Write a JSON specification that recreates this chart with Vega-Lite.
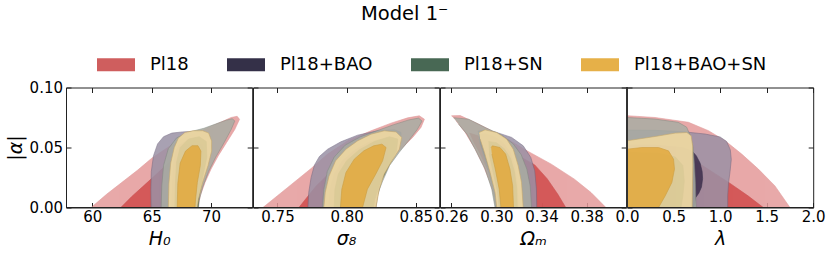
{
"$schema": "https://vega.github.io/schema/vega-lite/v6.json",
"padding": {"left": 5, "top": 3.5, "right": 5, "bottom": 5},
"title": {"text": "Model 1⁻", "font": "DejaVu Sans", "fontSize": 19.5, "fontWeight": "normal", "color": "black", "anchor": "middle", "dx": -11, "offset": 21.8},
"config": {
  "view": {"stroke": "#222", "strokeWidth": 1},
  "axis": {"labelFont": "DejaVu Sans", "labelFontSize": 15, "labelColor": "black", "titleFont": "DejaVu Sans", "titleFontSize": 19, "titleFontWeight": "normal", "titleFontStyle": "italic", "titleColor": "black", "domain": false, "grid": false, "tickColor": "#222", "tickSize": -5, "tickWidth": 1, "labelPadding": 8, "labelFlush": false, "labelOverlap": false, "labelBound": false},
  "axisX": {"labelPadding": 6.5, "titlePadding": 5}
},
"data": {"values": [
{"p":1,"d":"Pl18","l":95,"x":59.9,"y":0},{"p":1,"d":"Pl18","l":95,"x":61.2,"y":0.011},{"p":1,"d":"Pl18","l":95,"x":62.5,"y":0.021},{"p":1,"d":"Pl18","l":95,"x":63.8,"y":0.031},{"p":1,"d":"Pl18","l":95,"x":65.0,"y":0.041},{"p":1,"d":"Pl18","l":95,"x":66.35,"y":0.05},{"p":1,"d":"Pl18","l":95,"x":67.75,"y":0.058},{"p":1,"d":"Pl18","l":95,"x":69.4,"y":0.065},{"p":1,"d":"Pl18","l":95,"x":70.8,"y":0.071},{"p":1,"d":"Pl18","l":95,"x":71.7,"y":0.075},{"p":1,"d":"Pl18","l":95,"x":72.2,"y":0.076},{"p":1,"d":"Pl18","l":95,"x":72.4,"y":0.0735},{"p":1,"d":"Pl18","l":95,"x":72.0,"y":0.065},{"p":1,"d":"Pl18","l":95,"x":71.3,"y":0.054},{"p":1,"d":"Pl18","l":95,"x":70.6,"y":0.043},{"p":1,"d":"Pl18","l":95,"x":70.0,"y":0.032},{"p":1,"d":"Pl18","l":95,"x":69.5,"y":0.021},{"p":1,"d":"Pl18","l":95,"x":69.1,"y":0.01},{"p":1,"d":"Pl18","l":95,"x":68.9,"y":0},
{"p":1,"d":"Pl18","l":68,"x":62.4,"y":0},{"p":1,"d":"Pl18","l":68,"x":63.3,"y":0.009},{"p":1,"d":"Pl18","l":68,"x":64.2,"y":0.017},{"p":1,"d":"Pl18","l":68,"x":65.2,"y":0.026},{"p":1,"d":"Pl18","l":68,"x":66.3,"y":0.036},{"p":1,"d":"Pl18","l":68,"x":67.5,"y":0.046},{"p":1,"d":"Pl18","l":68,"x":68.6,"y":0.054},{"p":1,"d":"Pl18","l":68,"x":69.5,"y":0.058},{"p":1,"d":"Pl18","l":68,"x":69.9,"y":0.055},{"p":1,"d":"Pl18","l":68,"x":69.8,"y":0.045},{"p":1,"d":"Pl18","l":68,"x":69.4,"y":0.03},{"p":1,"d":"Pl18","l":68,"x":69.0,"y":0.015},{"p":1,"d":"Pl18","l":68,"x":68.7,"y":0},
{"p":1,"d":"Pl18+BAO","l":95,"x":64.95,"y":0},{"p":1,"d":"Pl18+BAO","l":95,"x":64.93,"y":0.015},{"p":1,"d":"Pl18+BAO","l":95,"x":64.97,"y":0.03},{"p":1,"d":"Pl18+BAO","l":95,"x":65.15,"y":0.043},{"p":1,"d":"Pl18+BAO","l":95,"x":65.5,"y":0.053},{"p":1,"d":"Pl18+BAO","l":95,"x":66.0,"y":0.059},{"p":1,"d":"Pl18+BAO","l":95,"x":66.7,"y":0.062},{"p":1,"d":"Pl18+BAO","l":95,"x":67.6,"y":0.063},{"p":1,"d":"Pl18+BAO","l":95,"x":68.6,"y":0.0635},{"p":1,"d":"Pl18+BAO","l":95,"x":69.4,"y":0.063},{"p":1,"d":"Pl18+BAO","l":95,"x":69.9,"y":0.059},{"p":1,"d":"Pl18+BAO","l":95,"x":70.0,"y":0.05},{"p":1,"d":"Pl18+BAO","l":95,"x":69.7,"y":0.038},{"p":1,"d":"Pl18+BAO","l":95,"x":69.3,"y":0.024},{"p":1,"d":"Pl18+BAO","l":95,"x":69.0,"y":0.01},{"p":1,"d":"Pl18+BAO","l":95,"x":68.85,"y":0},
{"p":1,"d":"Pl18+BAO","l":68,"x":66.7,"y":0},{"p":1,"d":"Pl18+BAO","l":68,"x":66.75,"y":0.02},{"p":1,"d":"Pl18+BAO","l":68,"x":66.85,"y":0.037},{"p":1,"d":"Pl18+BAO","l":68,"x":66.98,"y":0.046},{"p":1,"d":"Pl18+BAO","l":68,"x":67.3,"y":0.052},{"p":1,"d":"Pl18+BAO","l":68,"x":68.0,"y":0.056},{"p":1,"d":"Pl18+BAO","l":68,"x":68.9,"y":0.055},{"p":1,"d":"Pl18+BAO","l":68,"x":69.4,"y":0.049},{"p":1,"d":"Pl18+BAO","l":68,"x":69.35,"y":0.032},{"p":1,"d":"Pl18+BAO","l":68,"x":69.05,"y":0.015},{"p":1,"d":"Pl18+BAO","l":68,"x":68.8,"y":0},
{"p":1,"d":"Pl18+SN","l":95,"x":65.8,"y":0},{"p":1,"d":"Pl18+SN","l":95,"x":65.85,"y":0.018},{"p":1,"d":"Pl18+SN","l":95,"x":66.0,"y":0.035},{"p":1,"d":"Pl18+SN","l":95,"x":66.4,"y":0.049},{"p":1,"d":"Pl18+SN","l":95,"x":67.1,"y":0.058},{"p":1,"d":"Pl18+SN","l":95,"x":68.2,"y":0.063},{"p":1,"d":"Pl18+SN","l":95,"x":69.4,"y":0.066},{"p":1,"d":"Pl18+SN","l":95,"x":70.5,"y":0.07},{"p":1,"d":"Pl18+SN","l":95,"x":71.3,"y":0.0728},{"p":1,"d":"Pl18+SN","l":95,"x":71.8,"y":0.074},{"p":1,"d":"Pl18+SN","l":95,"x":72.0,"y":0.072},{"p":1,"d":"Pl18+SN","l":95,"x":71.7,"y":0.065},{"p":1,"d":"Pl18+SN","l":95,"x":71.1,"y":0.054},{"p":1,"d":"Pl18+SN","l":95,"x":70.4,"y":0.042},{"p":1,"d":"Pl18+SN","l":95,"x":69.8,"y":0.03},{"p":1,"d":"Pl18+SN","l":95,"x":69.3,"y":0.017},{"p":1,"d":"Pl18+SN","l":95,"x":69.0,"y":0.006},{"p":1,"d":"Pl18+SN","l":95,"x":68.95,"y":0},
{"p":1,"d":"Pl18+SN","l":68,"x":66.95,"y":0},{"p":1,"d":"Pl18+SN","l":68,"x":67.0,"y":0.02},{"p":1,"d":"Pl18+SN","l":68,"x":67.1,"y":0.038},{"p":1,"d":"Pl18+SN","l":68,"x":67.4,"y":0.05},{"p":1,"d":"Pl18+SN","l":68,"x":68.1,"y":0.057},{"p":1,"d":"Pl18+SN","l":68,"x":69.0,"y":0.059},{"p":1,"d":"Pl18+SN","l":68,"x":69.6,"y":0.055},{"p":1,"d":"Pl18+SN","l":68,"x":69.65,"y":0.042},{"p":1,"d":"Pl18+SN","l":68,"x":69.3,"y":0.025},{"p":1,"d":"Pl18+SN","l":68,"x":69.0,"y":0.01},{"p":1,"d":"Pl18+SN","l":68,"x":68.9,"y":0},
{"p":1,"d":"Pl18+BAO+SN","l":95,"x":66.4,"y":0},{"p":1,"d":"Pl18+BAO+SN","l":95,"x":66.45,"y":0.02},{"p":1,"d":"Pl18+BAO+SN","l":95,"x":66.6,"y":0.037},{"p":1,"d":"Pl18+BAO+SN","l":95,"x":66.9,"y":0.05},{"p":1,"d":"Pl18+BAO+SN","l":95,"x":67.25,"y":0.058},{"p":1,"d":"Pl18+BAO+SN","l":95,"x":67.8,"y":0.0625},{"p":1,"d":"Pl18+BAO+SN","l":95,"x":68.5,"y":0.064},{"p":1,"d":"Pl18+BAO+SN","l":95,"x":69.3,"y":0.064},{"p":1,"d":"Pl18+BAO+SN","l":95,"x":69.8,"y":0.062},{"p":1,"d":"Pl18+BAO+SN","l":95,"x":70.05,"y":0.0555},{"p":1,"d":"Pl18+BAO+SN","l":95,"x":70.05,"y":0.047},{"p":1,"d":"Pl18+BAO+SN","l":95,"x":69.75,"y":0.035},{"p":1,"d":"Pl18+BAO+SN","l":95,"x":69.3,"y":0.021},{"p":1,"d":"Pl18+BAO+SN","l":95,"x":68.95,"y":0.007},{"p":1,"d":"Pl18+BAO+SN","l":95,"x":68.85,"y":0},
{"p":1,"d":"Pl18+BAO+SN","l":68,"x":67.15,"y":0},{"p":1,"d":"Pl18+BAO+SN","l":68,"x":67.2,"y":0.02},{"p":1,"d":"Pl18+BAO+SN","l":68,"x":67.4,"y":0.037},{"p":1,"d":"Pl18+BAO+SN","l":68,"x":67.85,"y":0.047},{"p":1,"d":"Pl18+BAO+SN","l":68,"x":68.4,"y":0.0515},{"p":1,"d":"Pl18+BAO+SN","l":68,"x":68.9,"y":0.0515},{"p":1,"d":"Pl18+BAO+SN","l":68,"x":69.15,"y":0.047},{"p":1,"d":"Pl18+BAO+SN","l":68,"x":69.1,"y":0.035},{"p":1,"d":"Pl18+BAO+SN","l":68,"x":68.85,"y":0.021},{"p":1,"d":"Pl18+BAO+SN","l":68,"x":68.7,"y":0.007},{"p":1,"d":"Pl18+BAO+SN","l":68,"x":68.65,"y":0},

{"p":2,"d":"Pl18","l":95,"x":0.7395,"y":0},{"p":2,"d":"Pl18","l":95,"x":0.7574,"y":0.0167},{"p":2,"d":"Pl18","l":95,"x":0.7743,"y":0.0325},{"p":2,"d":"Pl18","l":95,"x":0.7863,"y":0.0445},{"p":2,"d":"Pl18","l":95,"x":0.8008,"y":0.0556},{"p":2,"d":"Pl18","l":95,"x":0.8176,"y":0.0639},{"p":2,"d":"Pl18","l":95,"x":0.8321,"y":0.0703},{"p":2,"d":"Pl18","l":95,"x":0.8441,"y":0.0747},{"p":2,"d":"Pl18","l":95,"x":0.8525,"y":0.0764},{"p":2,"d":"Pl18","l":95,"x":0.8562,"y":0.0736},{"p":2,"d":"Pl18","l":95,"x":0.8537,"y":0.0667},{"p":2,"d":"Pl18","l":95,"x":0.8477,"y":0.0584},{"p":2,"d":"Pl18","l":95,"x":0.8405,"y":0.05},{"p":2,"d":"Pl18","l":95,"x":0.8333,"y":0.0417},{"p":2,"d":"Pl18","l":95,"x":0.8272,"y":0.032},{"p":2,"d":"Pl18","l":95,"x":0.8236,"y":0.0209},{"p":2,"d":"Pl18","l":95,"x":0.8212,"y":0.0098},{"p":2,"d":"Pl18","l":95,"x":0.82,"y":0},
{"p":2,"d":"Pl18","l":68,"x":0.7655,"y":0},{"p":2,"d":"Pl18","l":68,"x":0.771,"y":0.008},{"p":2,"d":"Pl18","l":68,"x":0.778,"y":0.018},{"p":2,"d":"Pl18","l":68,"x":0.787,"y":0.028},{"p":2,"d":"Pl18","l":68,"x":0.797,"y":0.038},{"p":2,"d":"Pl18","l":68,"x":0.808,"y":0.047},{"p":2,"d":"Pl18","l":68,"x":0.82,"y":0.054},{"p":2,"d":"Pl18","l":68,"x":0.831,"y":0.058},{"p":2,"d":"Pl18","l":68,"x":0.837,"y":0.056},{"p":2,"d":"Pl18","l":68,"x":0.836,"y":0.047},{"p":2,"d":"Pl18","l":68,"x":0.83,"y":0.034},{"p":2,"d":"Pl18","l":68,"x":0.824,"y":0.02},{"p":2,"d":"Pl18","l":68,"x":0.82,"y":0.007},{"p":2,"d":"Pl18","l":68,"x":0.819,"y":0},
{"p":2,"d":"Pl18+BAO","l":95,"x":0.772,"y":0},{"p":2,"d":"Pl18+BAO","l":95,"x":0.7726,"y":0.0125},{"p":2,"d":"Pl18+BAO","l":95,"x":0.7743,"y":0.025},{"p":2,"d":"Pl18+BAO","l":95,"x":0.7767,"y":0.0353},{"p":2,"d":"Pl18+BAO","l":95,"x":0.7803,"y":0.0425},{"p":2,"d":"Pl18+BAO","l":95,"x":0.7863,"y":0.0486},{"p":2,"d":"Pl18+BAO","l":95,"x":0.7959,"y":0.0548},{"p":2,"d":"Pl18+BAO","l":95,"x":0.808,"y":0.0603},{"p":2,"d":"Pl18+BAO","l":95,"x":0.8224,"y":0.0639},{"p":2,"d":"Pl18+BAO","l":95,"x":0.8345,"y":0.0647},{"p":2,"d":"Pl18+BAO","l":95,"x":0.8393,"y":0.0625},{"p":2,"d":"Pl18+BAO","l":95,"x":0.8388,"y":0.0542},{"p":2,"d":"Pl18+BAO","l":95,"x":0.8345,"y":0.0431},{"p":2,"d":"Pl18+BAO","l":95,"x":0.8284,"y":0.032},{"p":2,"d":"Pl18+BAO","l":95,"x":0.8248,"y":0.0209},{"p":2,"d":"Pl18+BAO","l":95,"x":0.8224,"y":0.0098},{"p":2,"d":"Pl18+BAO","l":95,"x":0.8212,"y":0},
{"p":2,"d":"Pl18+BAO","l":68,"x":0.787,"y":0},{"p":2,"d":"Pl18+BAO","l":68,"x":0.788,"y":0.015},{"p":2,"d":"Pl18+BAO","l":68,"x":0.791,"y":0.028},{"p":2,"d":"Pl18+BAO","l":68,"x":0.797,"y":0.039},{"p":2,"d":"Pl18+BAO","l":68,"x":0.806,"y":0.048},{"p":2,"d":"Pl18+BAO","l":68,"x":0.817,"y":0.055},{"p":2,"d":"Pl18+BAO","l":68,"x":0.829,"y":0.058},{"p":2,"d":"Pl18+BAO","l":68,"x":0.835,"y":0.055},{"p":2,"d":"Pl18+BAO","l":68,"x":0.834,"y":0.045},{"p":2,"d":"Pl18+BAO","l":68,"x":0.829,"y":0.033},{"p":2,"d":"Pl18+BAO","l":68,"x":0.824,"y":0.02},{"p":2,"d":"Pl18+BAO","l":68,"x":0.82,"y":0.008},{"p":2,"d":"Pl18+BAO","l":68,"x":0.818,"y":0},
{"p":2,"d":"Pl18+SN","l":95,"x":0.7825,"y":0},{"p":2,"d":"Pl18+SN","l":95,"x":0.7835,"y":0.015},{"p":2,"d":"Pl18+SN","l":95,"x":0.786,"y":0.03},{"p":2,"d":"Pl18+SN","l":95,"x":0.791,"y":0.042},{"p":2,"d":"Pl18+SN","l":95,"x":0.799,"y":0.052},{"p":2,"d":"Pl18+SN","l":95,"x":0.81,"y":0.059},{"p":2,"d":"Pl18+SN","l":95,"x":0.822,"y":0.064},{"p":2,"d":"Pl18+SN","l":95,"x":0.834,"y":0.069},{"p":2,"d":"Pl18+SN","l":95,"x":0.845,"y":0.073},{"p":2,"d":"Pl18+SN","l":95,"x":0.852,"y":0.0745},{"p":2,"d":"Pl18+SN","l":95,"x":0.8545,"y":0.072},{"p":2,"d":"Pl18+SN","l":95,"x":0.851,"y":0.065},{"p":2,"d":"Pl18+SN","l":95,"x":0.845,"y":0.056},{"p":2,"d":"Pl18+SN","l":95,"x":0.838,"y":0.046},{"p":2,"d":"Pl18+SN","l":95,"x":0.831,"y":0.035},{"p":2,"d":"Pl18+SN","l":95,"x":0.826,"y":0.022},{"p":2,"d":"Pl18+SN","l":95,"x":0.822,"y":0.01},{"p":2,"d":"Pl18+SN","l":95,"x":0.8205,"y":0},
{"p":2,"d":"Pl18+SN","l":68,"x":0.791,"y":0},{"p":2,"d":"Pl18+SN","l":68,"x":0.7915,"y":0.015},{"p":2,"d":"Pl18+SN","l":68,"x":0.794,"y":0.028},{"p":2,"d":"Pl18+SN","l":68,"x":0.8,"y":0.039},{"p":2,"d":"Pl18+SN","l":68,"x":0.809,"y":0.048},{"p":2,"d":"Pl18+SN","l":68,"x":0.82,"y":0.055},{"p":2,"d":"Pl18+SN","l":68,"x":0.831,"y":0.059},{"p":2,"d":"Pl18+SN","l":68,"x":0.837,"y":0.057},{"p":2,"d":"Pl18+SN","l":68,"x":0.836,"y":0.047},{"p":2,"d":"Pl18+SN","l":68,"x":0.83,"y":0.034},{"p":2,"d":"Pl18+SN","l":68,"x":0.824,"y":0.02},{"p":2,"d":"Pl18+SN","l":68,"x":0.8205,"y":0.007},{"p":2,"d":"Pl18+SN","l":68,"x":0.8195,"y":0},
{"p":2,"d":"Pl18+BAO+SN","l":95,"x":0.7835,"y":0},{"p":2,"d":"Pl18+BAO+SN","l":95,"x":0.7845,"y":0.0125},{"p":2,"d":"Pl18+BAO+SN","l":95,"x":0.7872,"y":0.026},{"p":2,"d":"Pl18+BAO+SN","l":95,"x":0.792,"y":0.0389},{"p":2,"d":"Pl18+BAO+SN","l":95,"x":0.7995,"y":0.0486},{"p":2,"d":"Pl18+BAO+SN","l":95,"x":0.808,"y":0.0556},{"p":2,"d":"Pl18+BAO+SN","l":95,"x":0.8176,"y":0.0611},{"p":2,"d":"Pl18+BAO+SN","l":95,"x":0.8272,"y":0.0639},{"p":2,"d":"Pl18+BAO+SN","l":95,"x":0.8357,"y":0.063},{"p":2,"d":"Pl18+BAO+SN","l":95,"x":0.8398,"y":0.0584},{"p":2,"d":"Pl18+BAO+SN","l":95,"x":0.8381,"y":0.0486},{"p":2,"d":"Pl18+BAO+SN","l":95,"x":0.832,"y":0.0375},{"p":2,"d":"Pl18+BAO+SN","l":95,"x":0.8272,"y":0.0278},{"p":2,"d":"Pl18+BAO+SN","l":95,"x":0.8236,"y":0.0153},{"p":2,"d":"Pl18+BAO+SN","l":95,"x":0.8212,"y":0},
{"p":2,"d":"Pl18+BAO+SN","l":68,"x":0.7955,"y":0},{"p":2,"d":"Pl18+BAO+SN","l":68,"x":0.7965,"y":0.0153},{"p":2,"d":"Pl18+BAO+SN","l":68,"x":0.7995,"y":0.0292},{"p":2,"d":"Pl18+BAO+SN","l":68,"x":0.8055,"y":0.0403},{"p":2,"d":"Pl18+BAO+SN","l":68,"x":0.8125,"y":0.0473},{"p":2,"d":"Pl18+BAO+SN","l":68,"x":0.8195,"y":0.0514},{"p":2,"d":"Pl18+BAO+SN","l":68,"x":0.8255,"y":0.0528},{"p":2,"d":"Pl18+BAO+SN","l":68,"x":0.8285,"y":0.05},{"p":2,"d":"Pl18+BAO+SN","l":68,"x":0.826,"y":0.0389},{"p":2,"d":"Pl18+BAO+SN","l":68,"x":0.821,"y":0.0278},{"p":2,"d":"Pl18+BAO+SN","l":68,"x":0.815,"y":0.0153},{"p":2,"d":"Pl18+BAO+SN","l":68,"x":0.8115,"y":0},

{"p":3,"d":"Pl18","l":95,"x":0.2601,"y":0.0764},{"p":3,"d":"Pl18","l":95,"x":0.268,"y":0.0766},{"p":3,"d":"Pl18","l":95,"x":0.2841,"y":0.0695},{"p":3,"d":"Pl18","l":95,"x":0.3047,"y":0.0597},{"p":3,"d":"Pl18","l":95,"x":0.3282,"y":0.0467},{"p":3,"d":"Pl18","l":95,"x":0.3487,"y":0.0361},{"p":3,"d":"Pl18","l":95,"x":0.3692,"y":0.0236},{"p":3,"d":"Pl18","l":95,"x":0.3839,"y":0.0125},{"p":3,"d":"Pl18","l":95,"x":0.3971,"y":0},{"p":3,"d":"Pl18","l":95,"x":0.2997,"y":0},{"p":3,"d":"Pl18","l":95,"x":0.2982,"y":0.0097},{"p":3,"d":"Pl18","l":95,"x":0.2944,"y":0.0209},{"p":3,"d":"Pl18","l":95,"x":0.2885,"y":0.0347},{"p":3,"d":"Pl18","l":95,"x":0.2812,"y":0.0486},{"p":3,"d":"Pl18","l":95,"x":0.2724,"y":0.0625},{"p":3,"d":"Pl18","l":95,"x":0.2642,"y":0.0723},
{"p":3,"d":"Pl18","l":68,"x":0.276,"y":0.062},{"p":3,"d":"Pl18","l":68,"x":0.29,"y":0.058},{"p":3,"d":"Pl18","l":68,"x":0.305,"y":0.051},{"p":3,"d":"Pl18","l":68,"x":0.32,"y":0.043},{"p":3,"d":"Pl18","l":68,"x":0.334,"y":0.0355},{"p":3,"d":"Pl18","l":68,"x":0.345,"y":0.024},{"p":3,"d":"Pl18","l":68,"x":0.3545,"y":0.011},{"p":3,"d":"Pl18","l":68,"x":0.3615,"y":0},{"p":3,"d":"Pl18","l":68,"x":0.3005,"y":0},{"p":3,"d":"Pl18","l":68,"x":0.2985,"y":0.015},{"p":3,"d":"Pl18","l":68,"x":0.293,"y":0.03},{"p":3,"d":"Pl18","l":68,"x":0.2855,"y":0.045},{"p":3,"d":"Pl18","l":68,"x":0.279,"y":0.056},
{"p":3,"d":"Pl18+BAO","l":95,"x":0.2835,"y":0.0635},{"p":3,"d":"Pl18+BAO","l":95,"x":0.29,"y":0.0645},{"p":3,"d":"Pl18+BAO","l":95,"x":0.2988,"y":0.063},{"p":3,"d":"Pl18+BAO","l":95,"x":0.3135,"y":0.0584},{"p":3,"d":"Pl18+BAO","l":95,"x":0.3238,"y":0.0514},{"p":3,"d":"Pl18+BAO","l":95,"x":0.3305,"y":0.0417},{"p":3,"d":"Pl18+BAO","l":95,"x":0.334,"y":0.0306},{"p":3,"d":"Pl18+BAO","l":95,"x":0.3355,"y":0.0153},{"p":3,"d":"Pl18+BAO","l":95,"x":0.3358,"y":0},{"p":3,"d":"Pl18+BAO","l":95,"x":0.2995,"y":0},{"p":3,"d":"Pl18+BAO","l":95,"x":0.297,"y":0.015},{"p":3,"d":"Pl18+BAO","l":95,"x":0.293,"y":0.03},{"p":3,"d":"Pl18+BAO","l":95,"x":0.288,"y":0.045},{"p":3,"d":"Pl18+BAO","l":95,"x":0.2845,"y":0.057},
{"p":3,"d":"Pl18+BAO","l":68,"x":0.2845,"y":0.061},{"p":3,"d":"Pl18+BAO","l":68,"x":0.29,"y":0.0615},{"p":3,"d":"Pl18+BAO","l":68,"x":0.298,"y":0.059},{"p":3,"d":"Pl18+BAO","l":68,"x":0.306,"y":0.054},{"p":3,"d":"Pl18+BAO","l":68,"x":0.312,"y":0.046},{"p":3,"d":"Pl18+BAO","l":68,"x":0.316,"y":0.035},{"p":3,"d":"Pl18+BAO","l":68,"x":0.3185,"y":0.02},{"p":3,"d":"Pl18+BAO","l":68,"x":0.3195,"y":0},{"p":3,"d":"Pl18+BAO","l":68,"x":0.3015,"y":0},{"p":3,"d":"Pl18+BAO","l":68,"x":0.2995,"y":0.013},{"p":3,"d":"Pl18+BAO","l":68,"x":0.295,"y":0.028},{"p":3,"d":"Pl18+BAO","l":68,"x":0.2895,"y":0.043},{"p":3,"d":"Pl18+BAO","l":68,"x":0.2855,"y":0.054},
{"p":3,"d":"Pl18+SN","l":95,"x":0.2621,"y":0.0748},{"p":3,"d":"Pl18+SN","l":95,"x":0.2753,"y":0.0736},{"p":3,"d":"Pl18+SN","l":95,"x":0.29,"y":0.0667},{"p":3,"d":"Pl18+SN","l":95,"x":0.3047,"y":0.0603},{"p":3,"d":"Pl18+SN","l":95,"x":0.315,"y":0.053},{"p":3,"d":"Pl18+SN","l":95,"x":0.322,"y":0.044},{"p":3,"d":"Pl18+SN","l":95,"x":0.327,"y":0.032},{"p":3,"d":"Pl18+SN","l":95,"x":0.33,"y":0.018},{"p":3,"d":"Pl18+SN","l":95,"x":0.3312,"y":0},{"p":3,"d":"Pl18+SN","l":95,"x":0.2988,"y":0},{"p":3,"d":"Pl18+SN","l":95,"x":0.2959,"y":0.0153},{"p":3,"d":"Pl18+SN","l":95,"x":0.29,"y":0.032},{"p":3,"d":"Pl18+SN","l":95,"x":0.2812,"y":0.0486},{"p":3,"d":"Pl18+SN","l":95,"x":0.2739,"y":0.0611},{"p":3,"d":"Pl18+SN","l":95,"x":0.2665,"y":0.0695},
{"p":3,"d":"Pl18+SN","l":68,"x":0.293,"y":0.055},{"p":3,"d":"Pl18+SN","l":68,"x":0.3,"y":0.054},{"p":3,"d":"Pl18+SN","l":68,"x":0.307,"y":0.049},{"p":3,"d":"Pl18+SN","l":68,"x":0.3125,"y":0.041},{"p":3,"d":"Pl18+SN","l":68,"x":0.316,"y":0.03},{"p":3,"d":"Pl18+SN","l":68,"x":0.318,"y":0.016},{"p":3,"d":"Pl18+SN","l":68,"x":0.3185,"y":0},{"p":3,"d":"Pl18+SN","l":68,"x":0.3025,"y":0},{"p":3,"d":"Pl18+SN","l":68,"x":0.301,"y":0.013},{"p":3,"d":"Pl18+SN","l":68,"x":0.2975,"y":0.028},{"p":3,"d":"Pl18+SN","l":68,"x":0.2935,"y":0.045},
{"p":3,"d":"Pl18+BAO+SN","l":95,"x":0.2847,"y":0.0625},{"p":3,"d":"Pl18+BAO+SN","l":95,"x":0.29,"y":0.0647},{"p":3,"d":"Pl18+BAO+SN","l":95,"x":0.3003,"y":0.0625},{"p":3,"d":"Pl18+BAO+SN","l":95,"x":0.3091,"y":0.057},{"p":3,"d":"Pl18+BAO+SN","l":95,"x":0.315,"y":0.0486},{"p":3,"d":"Pl18+BAO+SN","l":95,"x":0.3194,"y":0.0347},{"p":3,"d":"Pl18+BAO+SN","l":95,"x":0.3223,"y":0.0209},{"p":3,"d":"Pl18+BAO+SN","l":95,"x":0.3238,"y":0},{"p":3,"d":"Pl18+BAO+SN","l":95,"x":0.3003,"y":0},{"p":3,"d":"Pl18+BAO+SN","l":95,"x":0.2988,"y":0.0125},{"p":3,"d":"Pl18+BAO+SN","l":95,"x":0.2944,"y":0.0292},{"p":3,"d":"Pl18+BAO+SN","l":95,"x":0.2894,"y":0.0459},{"p":3,"d":"Pl18+BAO+SN","l":95,"x":0.2856,"y":0.057},
{"p":3,"d":"Pl18+BAO+SN","l":68,"x":0.2953,"y":0.05},{"p":3,"d":"Pl18+BAO+SN","l":68,"x":0.2965,"y":0.0514},{"p":3,"d":"Pl18+BAO+SN","l":68,"x":0.3032,"y":0.05},{"p":3,"d":"Pl18+BAO+SN","l":68,"x":0.3082,"y":0.0445},{"p":3,"d":"Pl18+BAO+SN","l":68,"x":0.312,"y":0.032},{"p":3,"d":"Pl18+BAO+SN","l":68,"x":0.3144,"y":0.0181},{"p":3,"d":"Pl18+BAO+SN","l":68,"x":0.3152,"y":0},{"p":3,"d":"Pl18+BAO+SN","l":68,"x":0.304,"y":0},{"p":3,"d":"Pl18+BAO+SN","l":68,"x":0.3025,"y":0.0153},{"p":3,"d":"Pl18+BAO+SN","l":68,"x":0.299,"y":0.032},{"p":3,"d":"Pl18+BAO+SN","l":68,"x":0.296,"y":0.0445},

{"p":4,"d":"Pl18","l":95,"x":0,"y":0},{"p":4,"d":"Pl18","l":95,"x":0,"y":0.0765},{"p":4,"d":"Pl18","l":95,"x":0.3,"y":0.075},{"p":4,"d":"Pl18","l":95,"x":0.66,"y":0.071},{"p":4,"d":"Pl18","l":95,"x":0.875,"y":0.064},{"p":4,"d":"Pl18","l":95,"x":1.054,"y":0.0556},{"p":4,"d":"Pl18","l":95,"x":1.232,"y":0.0445},{"p":4,"d":"Pl18","l":95,"x":1.411,"y":0.032},{"p":4,"d":"Pl18","l":95,"x":1.589,"y":0.018},{"p":4,"d":"Pl18","l":95,"x":1.75,"y":0},
{"p":4,"d":"Pl18","l":68,"x":0,"y":0},{"p":4,"d":"Pl18","l":68,"x":0,"y":0.055},{"p":4,"d":"Pl18","l":68,"x":0.3,"y":0.053},{"p":4,"d":"Pl18","l":68,"x":0.55,"y":0.047},{"p":4,"d":"Pl18","l":68,"x":0.77,"y":0.037},{"p":4,"d":"Pl18","l":68,"x":0.95,"y":0.028},{"p":4,"d":"Pl18","l":68,"x":1.1,"y":0.0205},{"p":4,"d":"Pl18","l":68,"x":1.3,"y":0.0097},{"p":4,"d":"Pl18","l":68,"x":1.464,"y":0},
{"p":4,"d":"Pl18+BAO","l":95,"x":0,"y":0},{"p":4,"d":"Pl18+BAO","l":95,"x":0,"y":0.0645},{"p":4,"d":"Pl18+BAO","l":95,"x":0.3,"y":0.0643},{"p":4,"d":"Pl18+BAO","l":95,"x":0.625,"y":0.063},{"p":4,"d":"Pl18+BAO","l":95,"x":0.84,"y":0.0612},{"p":4,"d":"Pl18+BAO","l":95,"x":1.0,"y":0.0588},{"p":4,"d":"Pl18+BAO","l":95,"x":1.07,"y":0.055},{"p":4,"d":"Pl18+BAO","l":95,"x":1.11,"y":0.048},{"p":4,"d":"Pl18+BAO","l":95,"x":1.12,"y":0.04},{"p":4,"d":"Pl18+BAO","l":95,"x":1.107,"y":0.03},{"p":4,"d":"Pl18+BAO","l":95,"x":1.09,"y":0.02},{"p":4,"d":"Pl18+BAO","l":95,"x":1.082,"y":0.01},{"p":4,"d":"Pl18+BAO","l":95,"x":1.082,"y":0},
{"p":4,"d":"Pl18+BAO","l":68,"x":0,"y":0},{"p":4,"d":"Pl18+BAO","l":68,"x":0,"y":0.052},{"p":4,"d":"Pl18+BAO","l":68,"x":0.3,"y":0.052},{"p":4,"d":"Pl18+BAO","l":68,"x":0.6,"y":0.05},{"p":4,"d":"Pl18+BAO","l":68,"x":0.7,"y":0.047},{"p":4,"d":"Pl18+BAO","l":68,"x":0.745,"y":0.043},{"p":4,"d":"Pl18+BAO","l":68,"x":0.785,"y":0.037},{"p":4,"d":"Pl18+BAO","l":68,"x":0.807,"y":0.03},{"p":4,"d":"Pl18+BAO","l":68,"x":0.812,"y":0.024},{"p":4,"d":"Pl18+BAO","l":68,"x":0.8,"y":0.017},{"p":4,"d":"Pl18+BAO","l":68,"x":0.772,"y":0.012},{"p":4,"d":"Pl18+BAO","l":68,"x":0.735,"y":0.008},{"p":4,"d":"Pl18+BAO","l":68,"x":0.72,"y":0},
{"p":4,"d":"Pl18+SN","l":95,"x":0,"y":0},{"p":4,"d":"Pl18+SN","l":95,"x":0,"y":0.075},{"p":4,"d":"Pl18+SN","l":95,"x":0.3,"y":0.0737},{"p":4,"d":"Pl18+SN","l":95,"x":0.55,"y":0.071},{"p":4,"d":"Pl18+SN","l":95,"x":0.64,"y":0.067},{"p":4,"d":"Pl18+SN","l":95,"x":0.68,"y":0.06},{"p":4,"d":"Pl18+SN","l":95,"x":0.71,"y":0.05},{"p":4,"d":"Pl18+SN","l":95,"x":0.725,"y":0.035},{"p":4,"d":"Pl18+SN","l":95,"x":0.735,"y":0.02},{"p":4,"d":"Pl18+SN","l":95,"x":0.74,"y":0.005},{"p":4,"d":"Pl18+SN","l":95,"x":0.742,"y":0},
{"p":4,"d":"Pl18+SN","l":68,"x":0,"y":0},{"p":4,"d":"Pl18+SN","l":68,"x":0,"y":0.046},{"p":4,"d":"Pl18+SN","l":68,"x":0.35,"y":0.045},{"p":4,"d":"Pl18+SN","l":68,"x":0.52,"y":0.042},{"p":4,"d":"Pl18+SN","l":68,"x":0.6,"y":0.035},{"p":4,"d":"Pl18+SN","l":68,"x":0.615,"y":0.022},{"p":4,"d":"Pl18+SN","l":68,"x":0.6,"y":0.01},{"p":4,"d":"Pl18+SN","l":68,"x":0.58,"y":0},
{"p":4,"d":"Pl18+BAO+SN","l":95,"x":0,"y":0},{"p":4,"d":"Pl18+BAO+SN","l":95,"x":0,"y":0.0556},{"p":4,"d":"Pl18+BAO+SN","l":95,"x":0.303,"y":0.0592},{"p":4,"d":"Pl18+BAO+SN","l":95,"x":0.518,"y":0.062},{"p":4,"d":"Pl18+BAO+SN","l":95,"x":0.643,"y":0.0625},{"p":4,"d":"Pl18+BAO+SN","l":95,"x":0.69,"y":0.0597},{"p":4,"d":"Pl18+BAO+SN","l":95,"x":0.705,"y":0.0514},{"p":4,"d":"Pl18+BAO+SN","l":95,"x":0.707,"y":0.0347},{"p":4,"d":"Pl18+BAO+SN","l":95,"x":0.703,"y":0.0153},{"p":4,"d":"Pl18+BAO+SN","l":95,"x":0.7,"y":0},
{"p":4,"d":"Pl18+BAO+SN","l":68,"x":0,"y":0},{"p":4,"d":"Pl18+BAO+SN","l":68,"x":0,"y":0.0486},{"p":4,"d":"Pl18+BAO+SN","l":68,"x":0.16,"y":0.05},{"p":4,"d":"Pl18+BAO+SN","l":68,"x":0.339,"y":0.05},{"p":4,"d":"Pl18+BAO+SN","l":68,"x":0.446,"y":0.0472},{"p":4,"d":"Pl18+BAO+SN","l":68,"x":0.5,"y":0.0403},{"p":4,"d":"Pl18+BAO+SN","l":68,"x":0.51,"y":0.032},{"p":4,"d":"Pl18+BAO+SN","l":68,"x":0.482,"y":0.0209},{"p":4,"d":"Pl18+BAO+SN","l":68,"x":0.411,"y":0.0098},{"p":4,"d":"Pl18+BAO+SN","l":68,"x":0.339,"y":0}
]},
"spacing": 0,
"bounds": "flush",
"resolve": {"scale": {"x": "independent", "y": "independent", "color": "shared", "fill": "shared", "stroke": "shared"}},
"hconcat": [
 {"width": 186.2, "height": 120, "transform": [{"filter": "datum.p == 1"}, {"calculate": "datum.d + ' ' + datum.l", "as": "k"}],
  "layer": [
   {"mark": {"type": "line", "filled": true, "order": false, "clip": true, "opacity": 0.85, "strokeWidth": 0.6},
    "encoding": {
     "x": {"field": "x", "type": "quantitative", "scale": {"domain": [57.78, 73.47], "nice": false, "zero": false}, "axis": {"orient": "bottom", "values": [60, 65, 70], "format": "d", "title": "H₀"}},
     "y": {"field": "y", "type": "quantitative", "scale": {"domain": [0, 0.1], "nice": false}, "axis": {"orient": "left", "values": [0, 0.05, 0.1], "format": ".2f", "title": "|α|", "labelPadding": 8.5}},
     "fill": {"field": "k", "type": "nominal", "scale": {"domain": ["Pl18 95", "Pl18 68", "Pl18+BAO 95", "Pl18+BAO 68", "Pl18+SN 95", "Pl18+SN 68", "Pl18+BAO+SN 95", "Pl18+BAO+SN 68"], "range": ["#e49b9b", "#d04c4c", "#9b91a5", "#3c2d4b", "#a9ada4", "#486a56", "#f4dba1", "#e2aa3e"]}, "legend": null},
     "stroke": {"field": "k", "type": "nominal", "scale": {"domain": ["Pl18 95", "Pl18 68", "Pl18+BAO 95", "Pl18+BAO 68", "Pl18+SN 95", "Pl18+SN 68", "Pl18+BAO+SN 95", "Pl18+BAO+SN 68"], "range": ["#dc8c8c", "#c44444", "#6e6780", "#2c2540", "#7f8a80", "#3c5a48", "#c9a865", "#c99530"]}, "legend": null}
    }},
   {"mark": {"type": "point", "filled": true, "opacity": 0},
    "encoding": {
     "x": {"field": "x", "type": "quantitative", "scale": {"domain": [57.78, 73.47], "nice": false, "zero": false}, "axis": {"orient": "top", "values": [60, 65, 70], "labels": false, "title": null}},
     "y": {"field": "y", "type": "quantitative", "scale": {"domain": [0, 0.1], "nice": false}, "axis": {"orient": "right", "values": [0, 0.05, 0.1], "labels": false, "title": null}},
     "color": {"field": "d", "type": "nominal", "scale": {"domain": ["Pl18", "Pl18+BAO", "Pl18+SN", "Pl18+BAO+SN"], "range": ["#cf5e5e", "#343048", "#486854", "#e6b048"]},
       "legend": {"orient": "none", "legendX": 31, "legendY": -41.7, "direction": "horizontal", "title": null, "symbolType": "M-1,-0.34H1V0.34H-1Z", "symbolSize": 1444, "symbolOpacity": 1, "symbolStrokeWidth": 0, "labelFont": "DejaVu Sans", "labelFontSize": 18, "labelColor": "black", "labelOffset": 15, "columnPadding": 38, "padding": 0}}
    }},
   {"mark": {"type": "rule", "color": "#222", "strokeWidth": 1}, "encoding": {"y": {"datum": 0, "axis": null}}}
  ],
  "resolve": {"axis": {"x": "independent", "y": "independent"}}
 },
 {"width": 186.2, "height": 120, "transform": [{"filter": "datum.p == 2"}, {"calculate": "datum.d + ' ' + datum.l", "as": "k"}],
  "layer": [
   {"mark": {"type": "line", "filled": true, "order": false, "clip": true, "opacity": 0.85, "strokeWidth": 0.6},
    "encoding": {
     "x": {"field": "x", "type": "quantitative", "scale": {"domain": [0.7323, 0.8669], "nice": false, "zero": false}, "axis": {"orient": "bottom", "values": [0.75, 0.8, 0.85], "format": ".2f", "title": "σ₈"}},
     "y": {"field": "y", "type": "quantitative", "scale": {"domain": [0, 0.1], "nice": false}, "axis": {"orient": "left", "values": [0, 0.05, 0.1], "labels": false, "title": null}},
     "fill": {"field": "k", "type": "nominal", "legend": null},
     "stroke": {"field": "k", "type": "nominal", "legend": null}
    }},
   {"mark": {"type": "point", "opacity": 0},
    "encoding": {
     "x": {"field": "x", "type": "quantitative", "scale": {"domain": [0.7323, 0.8669], "nice": false, "zero": false}, "axis": {"orient": "top", "values": [0.75, 0.8, 0.85], "labels": false, "title": null}},
     "y": {"field": "y", "type": "quantitative", "scale": {"domain": [0, 0.1], "nice": false}, "axis": {"orient": "right", "values": [0, 0.05, 0.1], "labels": false, "title": null}}
    }},
   {"mark": {"type": "rule", "color": "#222", "strokeWidth": 1}, "encoding": {"y": {"datum": 0, "axis": null}}}
  ],
  "resolve": {"axis": {"x": "independent", "y": "independent"}}
 },
 {"width": 186.2, "height": 120, "transform": [{"filter": "datum.p == 3"}, {"calculate": "datum.d + ' ' + datum.l", "as": "k"}],
  "layer": [
   {"mark": {"type": "line", "filled": true, "order": false, "clip": true, "opacity": 0.85, "strokeWidth": 0.6},
    "encoding": {
     "x": {"field": "x", "type": "quantitative", "scale": {"domain": [0.25, 0.4151], "nice": false, "zero": false}, "axis": {"orient": "bottom", "values": [0.26, 0.3, 0.34, 0.38], "format": ".2f", "title": "Ωₘ"}},
     "y": {"field": "y", "type": "quantitative", "scale": {"domain": [0, 0.1], "nice": false}, "axis": {"orient": "left", "values": [0, 0.05, 0.1], "labels": false, "title": null}},
     "fill": {"field": "k", "type": "nominal", "legend": null},
     "stroke": {"field": "k", "type": "nominal", "legend": null}
    }},
   {"mark": {"type": "point", "opacity": 0},
    "encoding": {
     "x": {"field": "x", "type": "quantitative", "scale": {"domain": [0.25, 0.4151], "nice": false, "zero": false}, "axis": {"orient": "top", "values": [0.26, 0.3, 0.34, 0.38], "labels": false, "title": null}},
     "y": {"field": "y", "type": "quantitative", "scale": {"domain": [0, 0.1], "nice": false}, "axis": {"orient": "right", "values": [0, 0.05, 0.1], "labels": false, "title": null}}
    }},
   {"mark": {"type": "rule", "color": "#222", "strokeWidth": 1}, "encoding": {"y": {"datum": 0, "axis": null}}}
  ],
  "resolve": {"axis": {"x": "independent", "y": "independent"}}
 },
 {"width": 186.2, "height": 120, "transform": [{"filter": "datum.p == 4"}, {"calculate": "datum.d + ' ' + datum.l", "as": "k"}],
  "layer": [
   {"mark": {"type": "line", "filled": true, "order": false, "clip": true, "opacity": 0.85, "strokeWidth": 0.6},
    "encoding": {
     "x": {"field": "x", "type": "quantitative", "scale": {"domain": [0, 2], "nice": false, "zero": false}, "axis": {"orient": "bottom", "values": [0, 0.5, 1, 1.5, 2], "format": ".1f", "title": "λ"}},
     "y": {"field": "y", "type": "quantitative", "scale": {"domain": [0, 0.1], "nice": false}, "axis": {"orient": "left", "values": [0, 0.05, 0.1], "labels": false, "title": null}},
     "fill": {"field": "k", "type": "nominal", "legend": null},
     "stroke": {"field": "k", "type": "nominal", "legend": null}
    }},
   {"mark": {"type": "point", "opacity": 0},
    "encoding": {
     "x": {"field": "x", "type": "quantitative", "scale": {"domain": [0, 2], "nice": false, "zero": false}, "axis": {"orient": "top", "values": [0, 0.5, 1, 1.5, 2], "labels": false, "title": null}},
     "y": {"field": "y", "type": "quantitative", "scale": {"domain": [0, 0.1], "nice": false}, "axis": {"orient": "right", "values": [0, 0.05, 0.1], "labels": false, "title": null}}
    }},
   {"mark": {"type": "rule", "color": "#222", "strokeWidth": 1}, "encoding": {"y": {"datum": 0, "axis": null}}},
   {"mark": {"type": "rule", "color": "#333", "strokeWidth": 0.8}, "encoding": {"x": {"datum": 0, "axis": null}}}
  ],
  "resolve": {"axis": {"x": "independent", "y": "independent"}}
 }
]
}
